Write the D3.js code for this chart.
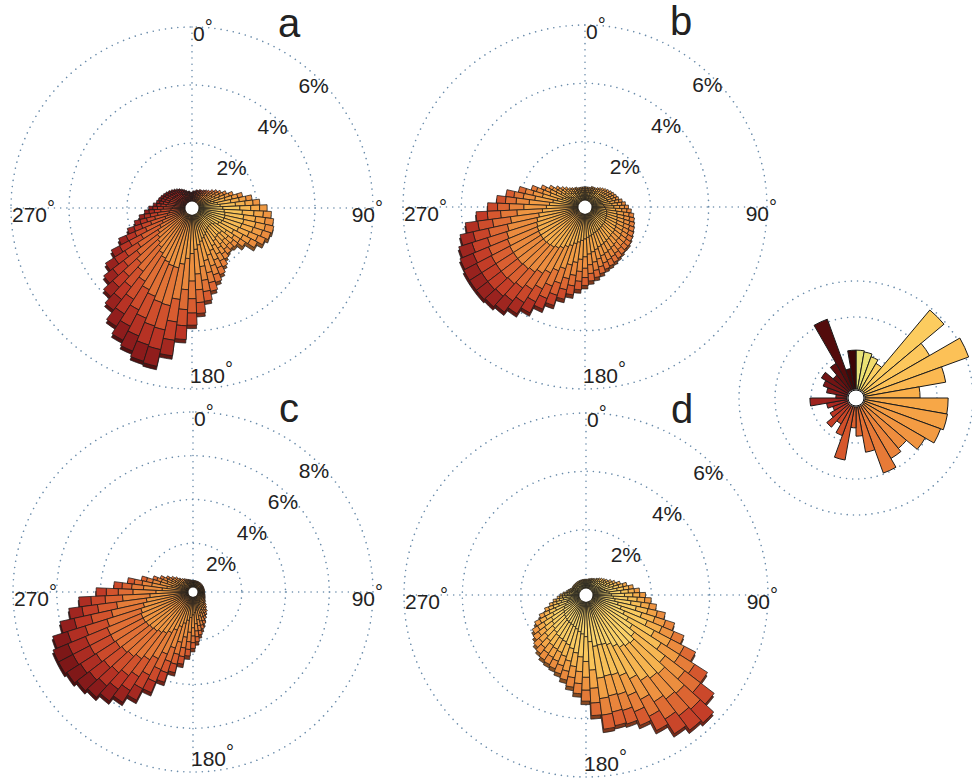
<!DOCTYPE html>
<html><head><meta charset="utf-8">
<script src="https://cdn.jsdelivr.net/npm/d3@7"></script>
<style>
body{margin:0;background:#fff}
text{font-family:"Liberation Sans",Arial,Helvetica,sans-serif;fill:#222}
</style>
</head><body>
<svg id="chart" width="972" height="780"></svg>
<script>
// ---------------- DATA ----------------
const directions = [0,5,10,15,20,25,30,35,40,45,50,55,60,65,70,75,80,85,90,95,100,105,110,115,120,125,130,135,140,145,150,155,160,165,170,175,180,185,190,195,200,205,210,215,220,225,230,235,240,245,250,255,260,265,270,275,280,285,290,295,300,305,310,315,320,325,330,335,340,345,350,355];

// total frequency (%) per direction bin
const totalsA = [0.3,0.35,0.35,0.4,0.4,0.45,0.45,0.5,0.55,0.6,0.7,0.8,0.9,1.05,1.25,1.55,1.85,2.1,2.35,2.5,2.6,2.65,2.6,2.5,2.3,1.95,1.75,1.7,1.75,1.85,2.05,2.25,2.45,2.7,3.0,3.4,3.8,4.3,4.9,5.35,5.3,5.1,4.9,4.6,4.2,3.9,3.6,3.3,2.9,2.5,2.1,1.8,1.6,1.4,1.25,1.1,1.0,0.95,0.9,0.85,0.8,0.75,0.7,0.65,0.6,0.55,0.5,0.45,0.4,0.35,0.35,0.3];
const totalsB = [0.45,0.45,0.45,0.45,0.5,0.5,0.5,0.55,0.6,0.65,0.7,0.75,0.8,0.85,0.9,0.95,1.05,1.15,1.25,1.35,1.45,1.5,1.55,1.6,1.65,1.7,1.75,1.75,1.8,1.85,1.9,1.95,2.0,2.1,2.2,2.3,2.45,2.6,2.8,3.0,3.3,3.55,3.85,4.1,4.3,4.4,4.45,4.45,4.45,4.4,4.3,4.15,3.9,3.5,3.1,2.8,2.5,2.1,1.7,1.4,1.15,0.95,0.8,0.7,0.6,0.55,0.5,0.5,0.45,0.45,0.45,0.45];
const totalsC = [0.3,0.3,0.3,0.3,0.3,0.3,0.3,0.3,0.3,0.3,0.3,0.3,0.3,0.3,0.3,0.3,0.3,0.3,0.3,0.3,0.32,0.34,0.36,0.38,0.4,0.45,0.5,0.6,0.7,0.85,0.95,1.1,1.3,1.5,1.75,2.05,2.35,2.7,3.1,3.55,4.1,4.75,5.35,5.75,6.05,6.3,6.45,6.6,6.7,6.7,6.5,6.0,5.5,5.0,4.2,3.4,2.8,2.2,1.7,1.4,1.15,0.95,0.8,0.65,0.55,0.5,0.45,0.4,0.38,0.35,0.33,0.3];
const totalsD = [0.3,0.3,0.32,0.34,0.36,0.38,0.4,0.45,0.5,0.55,0.6,0.65,0.75,0.85,1.0,1.2,1.4,1.6,1.8,2.0,2.2,2.55,2.95,3.4,4.0,4.7,5.3,5.7,5.6,5.4,5.0,4.6,4.4,4.35,4.4,3.9,3.4,3.15,2.95,2.75,2.6,2.5,2.45,2.4,2.3,2.2,2.05,1.95,1.75,1.5,1.25,1.05,0.9,0.75,0.65,0.55,0.45,0.4,0.35,0.3,0.3,0.3,0.3,0.3,0.3,0.3,0.3,0.3,0.3,0.3,0.3,0.3];

// share of each stacked class within a bar (inner -> outer)
const classShares = [0.35,0.25,0.16,0.13,0.11];

// radial tick labels per panel
const ticksA = [2,4,6], ticksB = [2,4,6], ticksC = [2,4,6,8], ticksD = [2,4,6];
const angleLabels = ["0","90","180","270"];
const panelLetters = ["a","b","c","d"];

// inset rose (10-degree bins)
const insetDirections = [5,15,25,35,45,55,65,75,85,95,105,115,125,135,145,155,165,175,185,195,205,215,225,235,245,255,265,275,285,295,305,315,325,335,345,355];
const insetValues = [1.08,1.05,0.97,0.86,2.94,2.11,3.08,2.28,1.53,2.31,2.33,2.25,1.97,1.58,1.69,1.97,1.28,0.81,0.58,1.5,0.86,0.58,0.81,0.58,0.44,0.58,1.03,0.31,0.58,0.72,0.86,0.58,0.86,2.08,0.58,1.08];
const insetTicks = [1,2,3];

// ---------------- STYLE ----------------
const svg = d3.select("#chart");
const cmap = d3.scaleLinear()
  .domain([0,0.2,0.35,0.5,0.62,0.75,0.87,1])
  .range(["#fbe27e","#f8c55a","#f4a447","#e8833b","#d95d30","#bf3726","#8e1c1c","#4a0a0a"])
  .clamp(true);
const baseA = d3.scaleLinear().domain([0,45,90,135,180,225,270,315,360]).range([0.75,0.45,0.1,0.2,0.3,0.42,0.66,0.8,0.75]);
const panels = [
  {cx:192, cy:208, R:181, r0:7, ticks:ticksA, totals:totalsA, base:d=>baseA(d), slope:0.08, boost:[0,0,0.03,0.07,0.12], letter:[289,37]},
  {cx:585, cy:207, R:182, r0:7, ticks:ticksB, totals:totalsB, base:d=>0.22, slope:0.12, boost:[0,0,0.03,0.07,0.12], letter:[681,35]},
  {cx:193, cy:592, R:180, r0:5, ticks:ticksC, totals:totalsC, base:d=>0.34, slope:0.07, boost:[0,0,0.03,0.07,0.12], letter:[289,422]},
  {cx:586, cy:595, R:182, r0:7, ticks:ticksD, totals:totalsD, base:d=>0.04, slope:0.09, boost:[0,0,0.06,0.13,0.2], letter:[682,423]}
];
const gridColor = "#6a8cab";
const rad = Math.PI/180;

function degLabel(g, x, y, num, anchor){
  const t = g.append("text").attr("x",x).attr("y",y).attr("text-anchor",anchor).attr("font-size",21);
  t.append("tspan").text(num);
  t.append("tspan").attr("font-size",20).attr("dy",-7).text("°");
}
function dotted(sel){
  return sel.attr("fill","none").attr("stroke",gridColor).attr("stroke-width",1.6)
    .attr("stroke-linecap","round").attr("stroke-dasharray","0.01 6.2");
}

panels.forEach((p,pi)=>{
  const g = svg.append("g").attr("transform",`translate(${p.cx},${p.cy})`);
  const maxT = p.ticks[p.ticks.length-1];
  const r = d3.scaleLinear().domain([0,maxT]).range([p.r0,p.R]);
  // grid
  p.ticks.forEach(t=>{ dotted(g.append("circle").attr("r",r(t))); });
  dotted(g.append("line").attr("x1",-p.R).attr("x2",p.R).attr("y1",0).attr("y2",0));
  dotted(g.append("line").attr("y1",-p.R).attr("y2",p.R).attr("x1",0).attr("x2",0));

  // bars
  const bars = directions.map((d,i)=>{
    const tot = p.totals[i];
    let cum = 0;
    const segs = classShares.map((s,k)=>{
      const v0 = cum; cum += s*tot;
      return {v0, v1:cum, t: p.base(d) + p.slope*((v0+cum)/2) + p.boost[k]};
    });
    const tipY = -Math.cos(d*rad)*r(tot);
    return {d, tot, segs, tipY};
  }).sort((a,b)=>a.tipY-b.tipY);

  const arc = d3.arc();
  const shadowG = g.append("g").attr("transform","translate(-0.5,3.5)");
  const barG = g.append("g");
  bars.forEach(b=>{
    const a0 = (b.d-2.5)*rad, a1 = (b.d+2.5)*rad;
    const outerCol = cmap(b.segs[b.segs.length-1].t);
    shadowG.append("path")
      .attr("d",arc({innerRadius:p.r0,outerRadius:r(b.tot),startAngle:a0,endAngle:a1}))
      .attr("fill",d3.color(outerCol).darker(1.5)).attr("stroke","#1b1b1b").attr("stroke-width",0.7);
    b.segs.forEach(s=>{
      barG.append("path")
        .attr("d",arc({innerRadius:r(s.v0),outerRadius:r(s.v1),startAngle:a0,endAngle:a1}))
        .attr("fill",cmap(s.t)).attr("stroke","#1b1b1b").attr("stroke-width",0.75);
    });
  });
  g.append("circle").attr("r",p.r0-0.5).attr("fill","#fff");

  // labels
  p.ticks.forEach(t=>{
    const rr = r(t)-9;
    g.append("text").attr("x",Math.sin(45*rad)*rr).attr("y",-Math.cos(45*rad)*rr+7)
      .attr("text-anchor","middle").attr("font-size",21).text(t+"%");
  });
  degLabel(g, 1, -p.R+14, angleLabels[0], "start");
  degLabel(g, p.R+10, 14, angleLabels[1], "end");
  degLabel(g, -2, p.R-6, angleLabels[2], "start");
  degLabel(g, -p.R+1, 14, angleLabels[3], "start");
  svg.append("text").attr("x",p.letter[0]).attr("y",p.letter[1]).attr("text-anchor","middle")
    .attr("font-size",40).text(panelLetters[pi]);
});

// ---------------- INSET ----------------
const ig = svg.append("g").attr("transform","translate(856,398)");
const ir = d3.scaleLinear().domain([0,3]).range([9,117]);
insetTicks.forEach(t=>{ dotted(ig.append("circle").attr("r",ir(t))); });
const insetColor = d3.scaleLinear()
  .domain([0,20,35,60,90,130,170,210,250,290,330,350,360])
  .range(["#e4e27c","#ece070","#fbd062","#fdc55a","#f8aa48","#f09240","#e26c32","#cf4a28","#b02a22","#801818","#5a0e0e","#3c0606","#3c0606"]);
const iarc = d3.arc();
insetDirections.forEach((d,i)=>{
  ig.append("path")
    .attr("d",iarc({innerRadius:ir(0),outerRadius:ir(insetValues[i]),startAngle:(d-5)*rad,endAngle:(d+5)*rad}))
    .attr("fill",insetColor(d)).attr("stroke","#1b1b1b").attr("stroke-width",1);
});
ig.append("circle").attr("r",ir(0)-1).attr("fill","#fff").attr("stroke","#111").attr("stroke-width",1);
</script>
</body></html>
